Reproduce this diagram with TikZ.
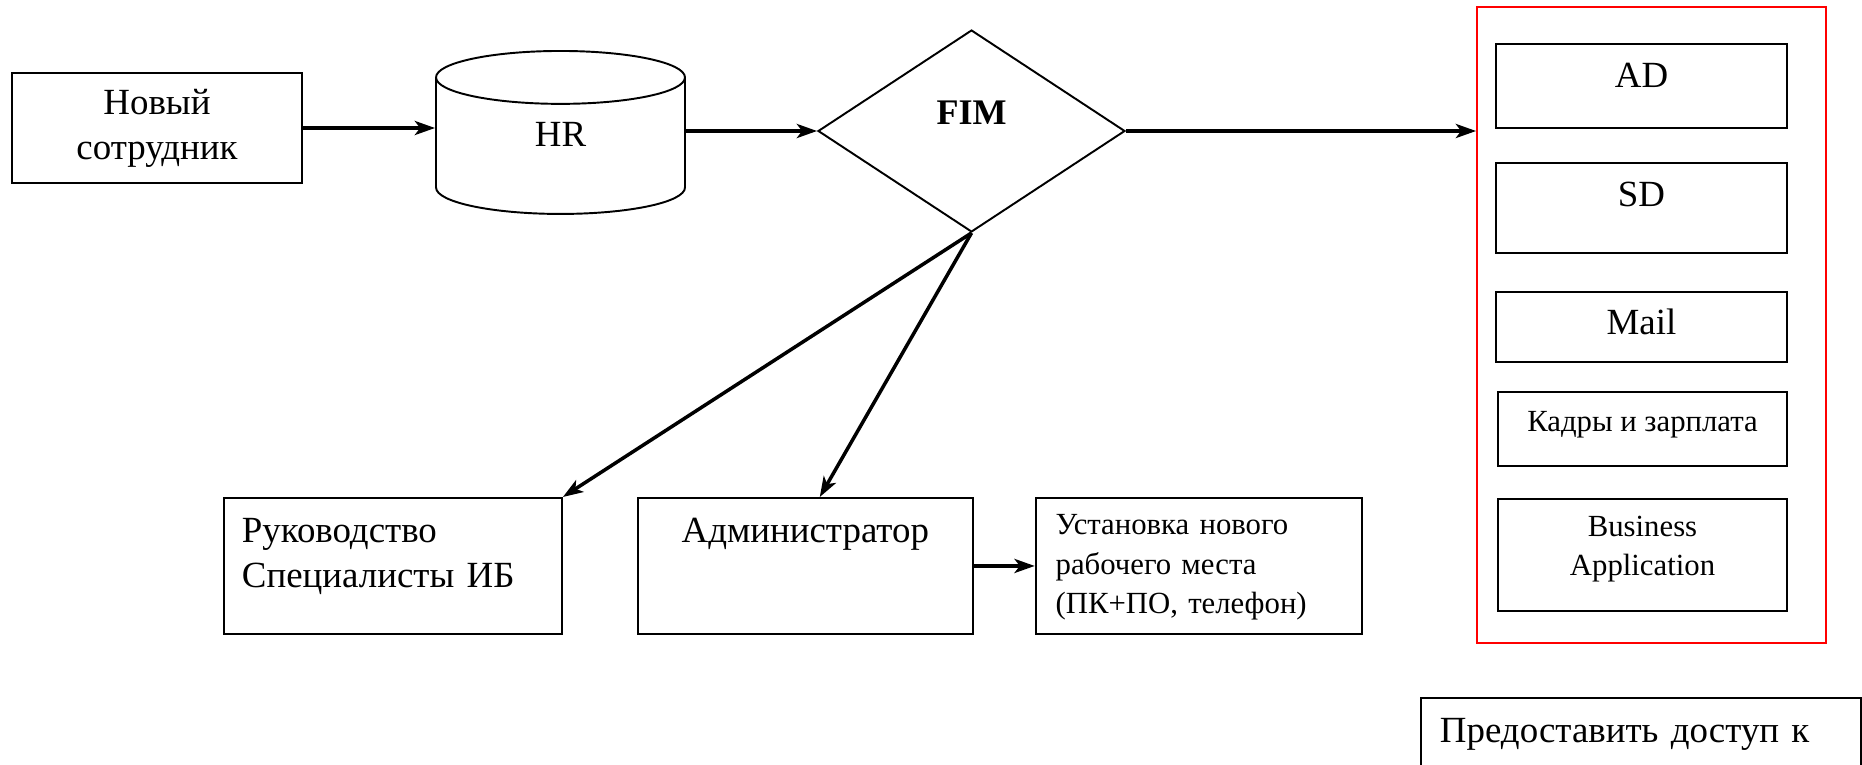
\documentclass[tikz,border=0pt]{standalone}
\usepackage{fontspec}
\setmainfont{Liberation Serif}
\usepackage{tikz}
\usetikzlibrary{shapes.geometric, arrows.meta, positioning}

\begin{document}
\begin{tikzpicture}[x=0.02cm, y=-0.02cm]

        % Define styles
        \tikzstyle{block} = [rectangle, draw, line width=1.1pt, inner sep=0pt]
        \tikzstyle{bigtext} = [font=\fontsize{21}{25.5}\selectfont]
        \tikzstyle{smalltext} = [font=\fontsize{17.5}{22.3}\selectfont]
        \tikzstyle{line} = [draw, line width=2pt, -{Stealth[length=11.5pt, width=8pt, inset=3pt]}]

        \clip (0,0) rectangle (1862,764);

        % Place nodes
        \node [block, bigtext, align=center, minimum width=5.8cm, minimum height=2.2cm] (newbie) at (157,128) {Новый\\сотрудник};
        \node [cylinder, draw, line width=1.1pt, shape border rotate=90, aspect=0.84, minimum width=4.98cm, minimum height=3.26cm, anchor=north, bigtext, text height=0.5cm, text depth=0.64cm] (hr) at (560.5,50) {HR};
        \node [diamond, draw, line width=1.1pt, aspect=1.52, minimum width=6.14cm, minimum height=4.04cm, inner sep=0pt, font=\bfseries\fontsize{20.5}{24}\selectfont, text height=0.5cm, text depth=0.78cm] (fim) at (971.5,131) {FIM};

        % Systems
        \node [draw=red, line width=1.1pt, minimum width=6.98cm, minimum height=12.72cm] (apps) at (1651.5,325) {};
        \node [block, bigtext, anchor=north, minimum width=5.82cm, text height=0.88cm, text depth=0.8cm] (ad) at (1641.5,43) {AD};
        \node [block, bigtext, below=0.66cm of ad, minimum width=5.82cm, text height=0.88cm, text depth=0.92cm] (sd) {SD};
        \node [block, bigtext, below=0.74cm of sd, minimum width=5.82cm, text height=0.86cm, text depth=0.54cm] (mail) {Mail};
        \node [block, smalltext, below=0.56cm of mail, minimum width=5.78cm, text height=0.8cm, text depth=0.68cm, xshift=0.02cm] (payroll) {Кадры и зарплата};
        \node [block, smalltext, below=0.62cm of payroll, align=center, minimum width=5.78cm, text height=1.54cm, text depth=0.7cm] (bizapp) {Business\\Application};

        % Recipients
        \node [block, bigtext, anchor=north west, inner xsep=0.36cm, text width=6.04cm, align=left, text height=0.9cm, text depth=1.82cm] (boss) at (223,497) {Руководство\\Специалисты ИБ};
        \node [block, bigtext, right=1.48cm of boss, minimum width=6.7cm, text height=0.9cm, text depth=1.82cm] (admin) {Администратор};
        \node [block, smalltext, right=1.22cm of admin, inner xsep=0.4cm, text width=5.72cm, align=left, text height=0.74cm, text depth=1.98cm] (setup) {Установка нового\\рабочего места\\(ПК+ПО, телефон)};
        \node [block, bigtext, anchor=north west, inner xsep=0.38cm, text width=8.04cm, align=left, text height=0.9cm, text depth=1.3cm] (access) at (1420,697) {Предоставить доступ к};

        % Draw edges
        \path [line] (newbie.east) -- (newbie.east -| hr.west);
        \path [line] (hr.east |- fim.west) -- (fim.west);
        \path [line] (fim.east) -- (fim.east -| apps.west);
        \path [line] (fim.south) -- (boss.north east);
        \path [line] (fim.south) -- ([xshift=0.29cm]admin.north);
        \path [line] (admin) -- (setup);

\end{tikzpicture}
\end{document}
